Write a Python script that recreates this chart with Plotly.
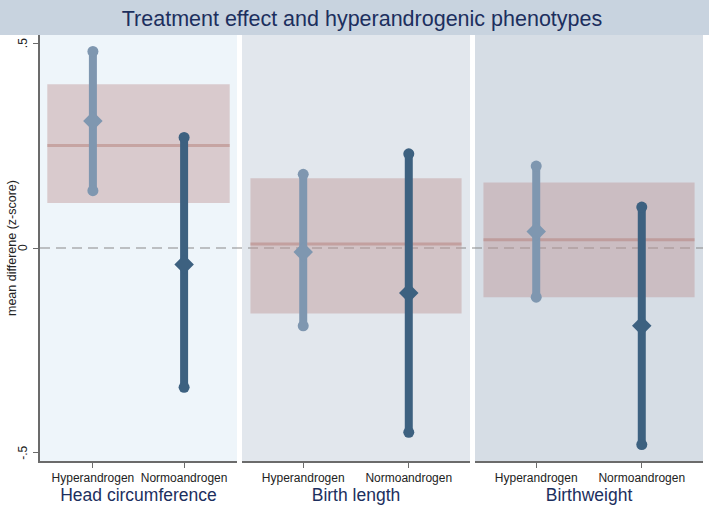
import plotly.graph_objects as go

# ---- data ----
outcomes = ["Head circumference", "Birth length", "Birthweight"]
groups = ["Hyperandrogen", "Normoandrogen"]
est_hyper = [0.31, -0.01, 0.04]
lo_hyper = [0.14, -0.19, -0.12]
hi_hyper = [0.48, 0.18, 0.20]
est_normo = [-0.04, -0.11, -0.19]
lo_normo = [-0.34, -0.45, -0.48]
hi_normo = [0.27, 0.23, 0.10]
overall_est = [0.25, 0.01, 0.02]
overall_lo = [0.11, -0.16, -0.12]
overall_hi = [0.40, 0.17, 0.16]
ytick_vals = [-0.5, 0, 0.5]
ytick_text = ["-.5", "0", ".5"]

# ---- style ----
W, H = 709, 508
ML, MR, MT, MB = 40, 6, 35, 47
PW = W - ML - MR
PH = H - MT - MB
panel_px = [(40, 237), (242, 470), (475, 703)]
panel_bg = ["#eef5fa", "#e2e7ed", "#d6dde5"]
c_hyper = "#7f97b0"
c_normo = "#3d6180"
band_fill = "rgba(190,150,150,0.45)"
band_line = "rgba(180,125,120,0.5)"
navy = "#1c2f5e"
font = "Liberation Sans, Arial, sans-serif"

fig = go.Figure()
shapes = []
annotations = []
group_data = [(est_hyper, lo_hyper, hi_hyper, c_hyper),
              (est_normo, lo_normo, hi_normo, c_normo)]

for i, name in enumerate(outcomes):
    xa = "x" if i == 0 else f"x{i+1}"
    xkey = "xaxis" if i == 0 else f"xaxis{i+1}"
    d0 = (panel_px[i][0] - ML) / PW
    d1 = (panel_px[i][1] - ML) / PW
    fig.layout[xkey] = dict(
        domain=[d0, d1], range=[-0.58, 1.58], anchor="y", automargin=False,
        tickvals=[0, 1], ticktext=groups, showgrid=False, zeroline=False,
        showline=True, linecolor="#6b6b6b", linewidth=1.5,
        ticks="outside", ticklen=5, tickcolor="#6b6b6b",
        tickfont=dict(family=font, size=12, color="#222222"),
        title=dict(text=name, font=dict(family=font, size=17.5, color=navy), standoff=3),
        fixedrange=True,
    )
    # panel background
    shapes.append(dict(type="rect", xref=f"{xa} domain", yref="y domain",
                       x0=0, x1=1, y0=0, y1=1, fillcolor=panel_bg[i],
                       line=dict(width=0), layer="below"))
    # overall band
    shapes.append(dict(type="rect", xref=xa, yref="y", x0=-0.5, x1=1.5,
                       y0=overall_lo[i], y1=overall_hi[i], fillcolor=band_fill,
                       line=dict(width=0), layer="below"))
    shapes.append(dict(type="line", xref=xa, yref="y", x0=-0.5, x1=1.5,
                       y0=overall_est[i], y1=overall_est[i],
                       line=dict(color=band_line, width=3), layer="below"))
    for g, (est, lo, hi, col) in enumerate(group_data):
        fig.add_trace(go.Scatter(x=[g, g], y=[lo[i], hi[i]], xaxis=xa, yaxis="y",
                                 mode="lines+markers", line=dict(color=col, width=8),
                                 marker=dict(symbol="circle", size=11, color=col),
                                 showlegend=False, hoverinfo="skip"))
        fig.add_trace(go.Scatter(x=[g], y=[est[i]], xaxis=xa, yaxis="y",
                                 mode="markers",
                                 marker=dict(symbol="diamond", size=15, color=col),
                                 showlegend=False))

# zero reference line across all panels
shapes.append(dict(type="line", xref="paper", yref="y", x0=0, x1=1, y0=0, y1=0,
                   line=dict(color="#8a8a8a", width=1.2, dash="10px,6px"), layer="below"))
# title band
shapes.append(dict(type="rect", xref="paper", yref="paper",
                   x0=-ML / PW, x1=(W - ML) / PW, y0=1, y1=1 + MT / PH,
                   fillcolor="#c8d3df", line=dict(width=0), layer="below"))

# rotated y tick labels
for v, t in zip(ytick_vals, ytick_text):
    annotations.append(dict(text=t, xref="paper", yref="y", x=(23 - ML) / PW, y=v,
                            xanchor="center", yanchor="middle", textangle=-90,
                            showarrow=False,
                            font=dict(family=font, size=12, color="#222222")))
annotations.append(dict(text="mean differene (z-score)", xref="paper", yref="paper",
                        x=(12 - ML) / PW, y=0.5, xanchor="center", yanchor="middle",
                        textangle=-90, showarrow=False,
                        font=dict(family=font, size=12.5, color="#222222")))

fig.update_layout(
    width=W, height=H,
    margin=dict(l=ML, r=MR, t=MT, b=MB, autoexpand=False),
    paper_bgcolor="white", plot_bgcolor="rgba(0,0,0,0)",
    shapes=shapes,
    annotations=annotations,
    title=dict(text="Treatment effect and hyperandrogenic phenotypes",
               x=362 / W, xanchor="center", xref="container",
               y=1 - 18 / H, yanchor="middle", yref="container",
               font=dict(family=font, size=21.5, color=navy)),
    yaxis=dict(range=[-0.52, 0.52], tickvals=ytick_vals, showticklabels=False,
               showgrid=False, zeroline=False, automargin=False,
               showline=True, linecolor="#6b6b6b", linewidth=1.5,
               ticks="outside", ticklen=5, tickcolor="#6b6b6b",
               fixedrange=True),
)

fig.write_html("out.html", config={"displayModeBar": False},
               post_script="document.body.style.margin='0';")
